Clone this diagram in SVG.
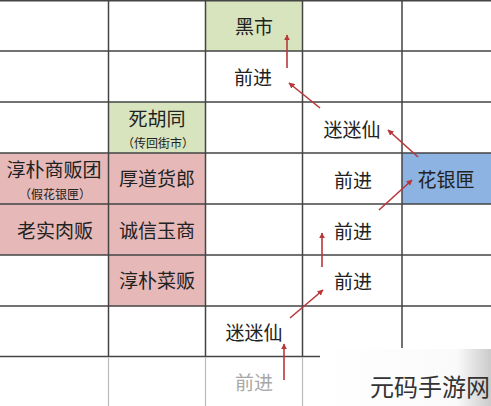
<svg xmlns="http://www.w3.org/2000/svg" width="491" height="406" viewBox="0 0 491 406">
<defs>
<style>
.t{font-family:"Noto Sans CJK SC","Noto Sans",sans-serif;font-size:19px;fill:#222;text-anchor:middle}
.s{font-family:"Noto Sans CJK SC","Noto Sans",sans-serif;font-size:12px;fill:#222;text-anchor:middle}
.g{stroke:#444;stroke-width:1.5;fill:none}
.gf{stroke:#bbb;stroke-width:1.2;fill:none}
.a{stroke:#b8383a;stroke-width:1.6;fill:none;marker-end:url(#ah)}
.green{fill:#d7e4bd}
.pink{fill:#e6b9b8}
.blue{fill:#8db3e2}
</style>
<marker id="ah" viewBox="0 0 10 10" refX="9" refY="5" markerWidth="6" markerHeight="6" orient="auto" markerUnits="userSpaceOnUse">
<path d="M0,0 L10,5 L0,10 Z" fill="#b8383a"/>
</marker>
<linearGradient id="wg" x1="0" y1="0" x2="1" y2="0">
<stop offset="0" stop-color="#fff" stop-opacity="0.95"/>
<stop offset="0.8" stop-color="#fafafa" stop-opacity="0.95"/>
<stop offset="1" stop-color="#c8c8c8" stop-opacity="0.95"/>
</linearGradient>
</defs>
<rect width="491" height="406" fill="#fff"/>
<g id="cells">
<rect class="green" x="206" y="0" width="96" height="51"/>
<rect class="green" x="108" y="102" width="97" height="51"/>
<rect class="pink" x="0" y="153" width="108" height="51"/>
<rect class="pink" x="108" y="153" width="97" height="51"/>
<rect class="pink" x="0" y="204" width="108" height="51"/>
<rect class="pink" x="108" y="204" width="97" height="51"/>
<rect class="pink" x="108" y="255" width="97" height="51"/>
<rect class="blue" x="402" y="153" width="89" height="51"/>
</g>
<g id="grid">
<path class="g" d="M0,0.75H491M0,51H491M0,102H491M0,153H491M0,204H491M0,255H491M0,306H491M0,356.5H320"/>
<path class="g" d="M108.5,0V357M205.5,0V357M302.5,0V357M402,0V348"/>
<path class="gf" d="M108.5,357V406M205.5,357V406M302.5,357V406"/>
</g>
<g id="n-heishi"><text class="t" x="254" y="34">黑市</text></g>
<g id="n-qianjin1"><text class="t" x="253" y="85">前进</text></g>
<g id="n-mimixian1"><text class="t" x="352" y="137">迷迷仙</text></g>
<g id="n-qianjin2"><text class="t" x="353" y="188">前进</text></g>
<g id="n-huayinxia"><text class="t" x="446" y="187">花银匣</text></g>
<g id="n-qianjin3"><text class="t" x="353" y="239">前进</text></g>
<g id="n-qianjin4"><text class="t" x="353" y="289">前进</text></g>
<g id="n-mimixian2"><text class="t" x="254" y="340">迷迷仙</text></g>
<g id="n-qianjin5"><text class="t" x="254" y="390" style="fill:#a8a8a8">前进</text></g>
<g id="n-sihutong"><text class="t" x="157" y="126">死胡同</text><text class="s" x="158" y="148">（传回街市）</text></g>
<g id="n-chunpu"><text class="t" x="54" y="177">淳朴商贩团</text><text class="s" x="55" y="199">（假花银匣）</text></g>
<g id="n-houdao"><text class="t" x="157" y="186">厚道货郎</text></g>
<g id="n-laoshi"><text class="t" x="55" y="238">老实肉贩</text></g>
<g id="n-chengxin"><text class="t" x="157" y="238">诚信玉商</text></g>
<g id="n-caifan"><text class="t" x="157" y="288">淳朴菜贩</text></g>
<g id="connectors">
<path class="a" d="M284,380V344"/>
<path class="a" d="M290,318L323,290"/>
<path class="a" d="M322,267V233"/>
<path class="a" d="M379,210L412,180"/>
<path class="a" d="M418,157L388,130"/>
<path class="a" d="M320,108L289,83"/>
<path class="a" d="M287,68V35"/>
</g>
<g id="watermark">
<rect x="320" y="349" width="171" height="57" fill="url(#wg)"/>
<text x="370" y="396" style="font-family:'Noto Sans CJK SC',sans-serif;font-size:24px;fill:#333">元码手游网</text>
</g>
</svg>
